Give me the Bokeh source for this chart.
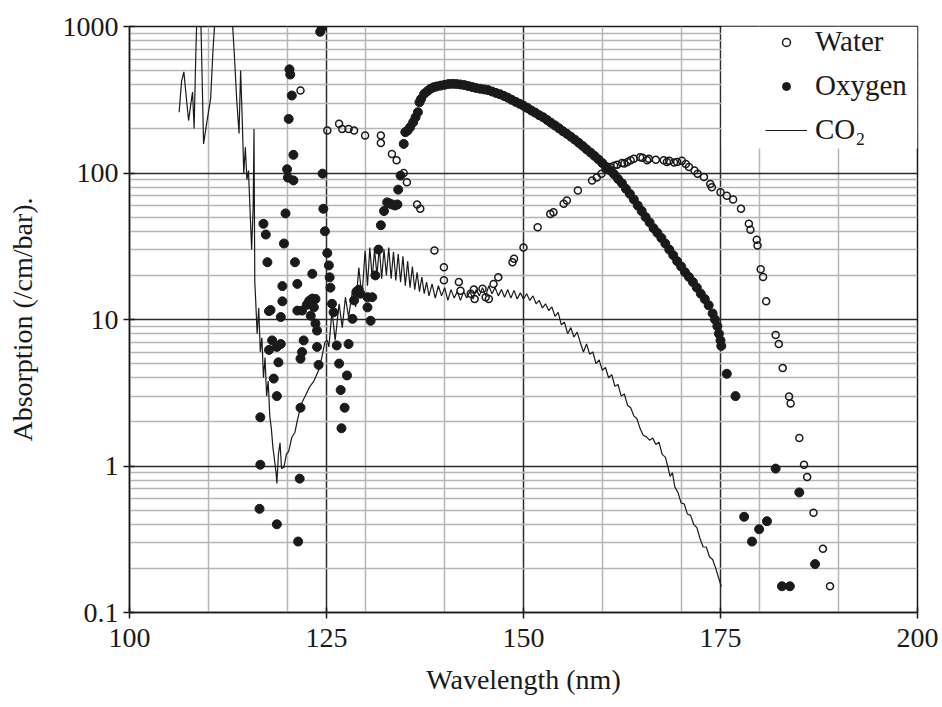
from bokeh.plotting import figure
from bokeh.models import FixedTicker, CustomJSTickFormatter, BoxAnnotation, Legend
from bokeh.embed import file_html
from bokeh.resources import INLINE

FONT = "'Liberation Serif', 'Times New Roman', 'DejaVu Serif', serif"
INK = "#1a1a1a"

# ---------------- data ----------------
x_ticks = [100, 125, 150, 175, 200]
x_minor = [110, 120, 130, 140, 160, 170, 180, 190]
y_ticks = [0.1, 1, 10, 100, 1000]
y_minor = [0.2, 0.3, 0.4, 0.5, 0.6, 0.7, 0.8, 0.9,
           2, 3, 4, 5, 6, 7, 8, 9,
           20, 30, 40, 50, 60, 70, 80, 90,
           200, 300, 400, 500, 600, 700, 800, 900]

co2_wl = [106.3, 106.6, 106.9, 107.2, 107.5, 107.8, 108.0, 108.2, 108.4, 108.6, 109.0,
          109.4, 109.8, 110.3, 110.6, 111.0, 112.9, 113.3, 113.6, 113.9, 114.1, 114.3,
          114.5, 114.7, 114.9, 115.1, 115.3, 115.5, 115.7, 115.8, 115.9, 116.0, 116.2,
          116.4, 116.6, 116.8, 117.0, 117.2, 117.4, 117.6, 117.8, 118.0, 118.2, 118.4,
          118.6, 118.7, 118.9, 119.1, 119.3, 119.6, 119.9, 120.2, 120.6, 121.0, 121.3,
          121.8, 122.3, 122.9, 123.4, 124.0, 124.4, 124.8, 125.1, 125.3, 125.7, 126.1,
          126.6, 127.0, 127.4, 127.8, 128.3, 128.7, 129.1, 129.5, 129.9, 130.2, 130.5,
          130.8, 131.1, 131.4, 131.7, 132.0, 132.3, 132.6, 132.9, 133.2, 133.5, 133.8,
          134.1, 134.4, 134.7, 135.0, 135.3, 135.6, 135.9, 136.2, 136.5, 136.8, 137.1,
          137.4, 137.7, 138.0, 138.4, 138.8, 139.2, 139.6, 140.0, 140.4, 140.8, 141.2,
          141.6, 142.0, 142.4, 142.8, 143.2, 143.6, 144.0, 144.4, 144.8, 145.2, 145.6,
          146.0, 146.4, 146.8, 147.2, 147.6, 148.0, 148.4, 148.8, 149.2, 149.6, 150.0,
          150.4, 150.8, 151.2, 151.6, 152.0, 152.4, 152.8, 153.2, 153.6, 154.0, 154.4,
          154.8, 155.2, 155.6, 156.0, 156.4, 156.8, 157.2, 157.6, 158.0, 158.4, 158.8,
          159.2, 159.6, 160.0, 160.4, 160.8, 161.2, 161.6, 162.0, 162.4, 162.8, 163.2,
          163.6, 164.0, 164.4, 164.8, 165.2, 165.6, 166.0, 166.4, 166.8, 167.2, 167.6,
          168.0, 168.3, 168.6, 168.9, 169.2, 169.6, 170.0, 170.4, 170.8, 171.2, 171.6,
          172.0, 172.4, 172.8, 173.2, 173.6, 174.0, 174.4, 174.8, 175.1]
co2_abs = [260, 420, 490, 330, 228, 300, 357, 201, 600, 1500, 1500,
           158, 220, 322, 700, 1500, 1500, 650, 320, 186, 500, 240,
           99, 150, 90, 104, 55, 30, 60, 200, 18, 14, 8,
           12, 6, 7.5, 4.0, 5.5, 3.0, 3.8, 2.2, 1.8, 1.34, 1.1,
           0.9, 0.76, 1.2, 1.44, 0.96, 0.98, 1.2, 1.26, 1.57, 1.7, 2.05,
           2.65, 3.0, 3.5, 3.8, 4.5, 5.5, 7.0, 7.2, 6.5, 11.5, 7.2,
           12.8, 8.8, 14.2, 10.4, 15.7, 12.2, 22.6, 14.2, 29.5, 17, 31,
           19, 30, 20, 31, 19, 30, 20, 31, 19, 29, 18.5,
           28, 18, 27, 17, 25, 16.5, 23, 16, 21, 15.5, 19.5,
           15, 18, 14.5, 17.5, 14, 17, 14.5, 16.5, 13.5, 16, 14,
           15.5, 13.5, 15.5, 14, 15.5, 13.8, 16, 14.5, 16.5, 14.5, 17,
           15, 16.5, 14.5, 16, 14.2, 16, 14, 15.8, 13.8, 15.2, 13.8,
           15, 13.5, 14.5, 12.8, 13.5, 12, 12.8, 11.5, 12.2, 10.5, 11.2,
           9.2, 9.6, 8.0, 8.8, 7.6, 8.2, 7.0, 6.0, 6.8, 5.8, 6.0,
           5.0, 5.3, 4.5, 4.7, 4.0, 4.2, 3.5, 3.6, 3.0, 3.1, 2.6,
           2.5, 2.2, 2.1, 1.8, 1.62, 1.58, 1.5, 1.55, 1.4, 1.45, 1.2,
           1.15, 1.0, 0.85, 0.9, 0.72, 0.66, 0.56, 0.55, 0.47, 0.46, 0.4,
           0.38, 0.32, 0.28, 0.28, 0.24, 0.23, 0.2, 0.17, 0.15]

o2_wl = [116.5, 116.6, 116.6, 117.0, 117.3, 117.5, 117.7, 117.7, 117.9, 118.1, 118.3,
         118.7, 118.7, 118.7, 118.9, 119.2, 119.2, 119.4, 119.4, 119.6, 119.8, 120.0,
         120.1, 120.2, 120.3, 120.4, 120.6, 120.8, 120.8, 121.0, 121.3, 121.3, 121.4,
         121.6, 121.7, 121.7, 121.9, 121.9, 122.1, 122.5, 122.8, 123.0, 123.2, 123.2,
         123.4, 123.6, 123.6, 123.8, 123.8, 124.0, 124.2, 124.4, 124.5, 124.6, 124.8,
         125.1, 125.3, 125.4, 125.5, 125.7, 125.9, 126.3, 126.6, 126.8, 126.9, 127.3,
         127.6, 127.8, 128.3, 128.5, 128.8, 129.1, 129.3, 130.2, 130.2, 130.6, 130.8,
         131.2, 131.6, 131.9, 132.3, 132.7, 133.0, 133.3, 133.7, 134.0, 134.1, 134.4,
         134.8, 135.0, 135.3, 135.6, 136.0, 136.3, 136.6, 136.8,
         137.0, 137.4, 137.8, 138.2, 138.6, 139.0, 139.5, 140.0, 140.5, 141.0, 141.5,
         142.0, 142.5, 143.0, 143.5, 144.0, 144.5, 145.0, 145.5, 146.0, 146.5, 147.0,
         147.5, 148.0, 148.5, 149.0, 149.5, 150.0, 150.5, 151.0, 151.5, 152.0, 152.5,
         153.0, 153.5, 154.0, 154.5, 155.0, 155.5, 156.0, 156.5, 157.0, 157.5, 158.0,
         158.5, 159.0, 159.5, 160.0, 160.5, 161.0, 161.5, 162.0, 162.5, 163.0, 163.5,
         164.0, 164.5, 165.0, 165.5, 166.0, 166.5, 167.0, 167.5, 168.0, 168.5, 169.0,
         169.5, 170.0, 170.5, 171.0, 171.5, 172.0, 172.5, 173.0, 173.5, 174.0, 174.3,
         174.6, 174.8, 175.0, 175.1,
         175.8, 176.9, 178.0, 179.0, 179.9, 180.9, 182.0, 182.8, 183.8, 185.0, 187.0]
o2_abs = [0.51, 1.02, 2.15, 45, 38, 24.6, 11.4, 6.2, 11.6, 7.2, 3.95,
          6.5, 3.0, 0.40, 5.1, 6.8, 10.4, 13.3, 16.9, 33, 53, 106,
          93, 234, 510, 470, 338, 133, 89, 24.6, 17.5, 11.5, 0.305,
          0.82, 2.5, 5.4, 6.0, 11.5, 7.2, 12.6, 13.4, 10.6, 13.9, 20.5,
          12.1, 13.8, 9.4, 8.4, 6.5, 4.9, 920, 980, 99, 57, 40,
          28.4, 23.4, 19.4, 16.5, 12.8, 11.2, 6.65, 5.0, 3.3, 1.81, 2.5,
          4.15, 6.8, 10.1, 13.5, 15.5, 16, 15, 14.2, 12.1, 9.8, 14.2,
          20, 30, 44, 55, 63, 62, 61, 60, 61, 77, 96,
          158, 190, 195, 205, 222, 240, 260, 304,
          320, 347, 362, 376, 385, 390, 395, 400, 405, 406, 405,
          402, 398, 392, 386, 380, 376, 372, 368, 360, 352, 345,
          336, 327, 316, 306, 297, 288, 278, 267, 258, 248, 240,
          230, 220, 211, 202, 193, 185, 177, 169, 161, 153, 145,
          138, 131, 124, 117, 110, 104, 98, 91, 85, 78, 72,
          66, 60, 55, 50, 46, 42, 39, 36, 33, 30, 27.5,
          25, 23, 21, 19.5, 18, 16.5, 15, 13.8, 12.5, 11, 10,
          9.0, 8.0, 7.2, 6.6,
          4.26, 3.0, 0.45, 0.305, 0.37, 0.42, 0.96, 0.151, 0.151, 0.66, 0.214]

h2o_wl = [121.7, 125.1, 126.6, 127.0, 127.8, 128.5, 129.9, 131.9, 131.9, 133.3, 133.9,
          134.8, 135.2, 136.5, 136.9, 138.7, 139.9, 139.9, 141.8, 142.0, 143.3, 143.7,
          143.8, 144.8, 145.2, 145.6, 146.2, 146.8, 148.6, 148.8, 150.0, 151.8, 153.4,
          153.8, 155.1, 155.5, 156.9, 158.7, 159.3, 159.9, 160.4, 161.0, 161.5, 161.9,
          162.5, 162.8, 163.2, 163.6, 164.0, 164.8, 165.1, 165.7, 165.9, 166.8, 167.8,
          168.2, 168.5, 169.1, 169.5, 170.1, 170.6, 171.0, 171.7, 172.1, 172.9, 173.7,
          173.9, 175.0, 175.8, 176.6, 177.6, 178.6, 178.8, 179.6, 179.7, 180.1, 180.4,
          180.8, 182.0, 182.4, 182.9, 183.7, 183.9, 185.0, 185.6, 186.0, 186.8, 188.0,
          188.9]
h2o_abs = [366, 195, 217, 200, 200, 195, 180, 180, 160, 135, 122,
           100, 86.5, 61, 57, 29.6, 22.7, 18.5, 18, 15.7, 15.0, 16.0,
           13.8, 16.2, 14.2, 13.8, 17.5, 19.4, 24.6, 26, 31, 42.7, 52.6,
           54, 61.6, 65, 76, 89, 93, 99, 106, 110, 112, 114,
           117, 116, 119, 122, 125, 128, 127, 122, 125, 123, 122,
           119, 121, 118, 119, 121, 115, 110, 104, 99, 94, 84,
           80, 74, 70, 66, 57, 45, 41, 35, 32, 22, 19.5,
           13.3, 7.85, 6.8, 4.66, 2.98, 2.67, 1.55, 1.02, 0.84, 0.48, 0.272,
           0.151]

# ---------------- figure ----------------
p = figure(width=942, height=707, x_range=(100, 200), y_range=(0.1, 1000),
           y_axis_type="log", output_backend="svg", toolbar_location=None,
           min_border_left=129, min_border_right=25, min_border_top=26,
           min_border_bottom=95, background_fill_color="white",
           border_fill_color="white")
p.outline_line_color = INK
p.outline_line_width = 1.5

xt = FixedTicker(ticks=x_ticks, minor_ticks=x_minor)
yt = FixedTicker(ticks=y_ticks, minor_ticks=y_minor)
p.xaxis.ticker = xt
p.xgrid.ticker = xt
p.yaxis.ticker = yt
p.ygrid.ticker = yt
p.yaxis.formatter = CustomJSTickFormatter(
    code="return tick < 1 ? tick.toFixed(1) : tick.toFixed(0);")

for g in (p.xgrid, p.ygrid):
    g.grid_line_color = "#2b2b2b"
    g.grid_line_width = 1.5
    g.minor_grid_line_color = "#b5b5b5"
    g.minor_grid_line_width = 1.5

for ax in (p.xaxis, p.yaxis):
    ax.axis_line_color = INK
    ax.axis_line_width = 1.5
    ax.major_tick_line_color = INK
    ax.major_tick_line_width = 1.5
    ax.major_tick_in = 5
    ax.major_tick_out = 6
    ax.minor_tick_line_color = None
    ax.major_label_text_font = FONT
    ax.major_label_text_font_size = "28px"
    ax.major_label_text_color = INK
    ax.axis_label_text_font = FONT
    ax.axis_label_text_font_size = "28px"
    ax.axis_label_text_font_style = "normal"
    ax.axis_label_text_color = INK

p.xaxis.axis_label = "Wavelength (nm)"
p.yaxis.axis_label = "Absorption (/cm/bar)."
p.xaxis.major_label_standoff = 10
p.xaxis.axis_label_standoff = 14
p.yaxis.major_label_standoff = 5
p.yaxis.axis_label_standoff = 22

# white panel behind the legend, hiding the grid there
p.add_layout(BoxAnnotation(left=175.15, right=200, bottom=147, top=1000,
                           fill_color="white", fill_alpha=1, line_color=None,
                           level="underlay"))

r_c = p.line(co2_wl, co2_abs, line_color=INK, line_width=1.2)
r_w = p.scatter(h2o_wl, h2o_abs, marker="circle", size=7, fill_color=None,
                line_color=INK, line_width=1.5)
r_o = p.scatter(o2_wl, o2_abs, marker="circle", size=9, fill_color=INK,
                line_color=INK)

legend = Legend(items=[("Water", [r_w]), ("Oxygen", [r_o]), ("CO\u2082", [r_c])],
                location=(636, 466), orientation="vertical")
legend.label_text_font = FONT
legend.label_text_font_size = "29px"
legend.label_text_color = INK
legend.glyph_width = 42
legend.glyph_height = 20
legend.label_height = 30
legend.label_standoff = 8
legend.spacing = 11
legend.padding = 0
legend.margin = 0
legend.background_fill_alpha = 0
legend.border_line_color = None
p.add_layout(legend)

open("out.html", "w").write(file_html(p, INLINE))
